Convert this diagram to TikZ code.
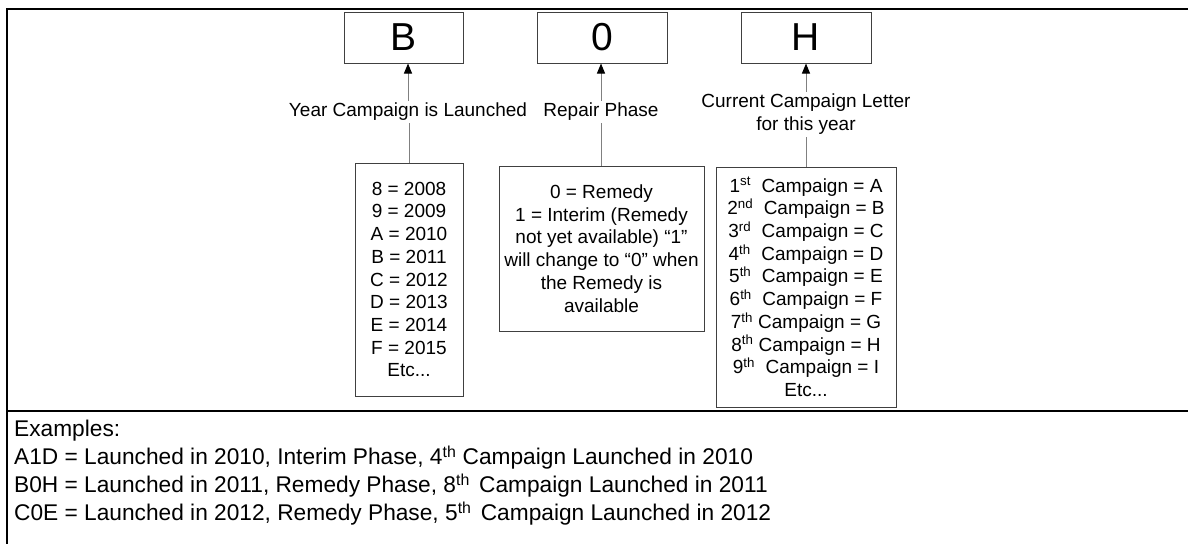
\documentclass[tikz,border=0pt]{standalone}
\usepackage{fontspec}
\setmainfont{Liberation Sans}
\usetikzlibrary{arrows.meta, positioning}
\definecolor{boxgray}{HTML}{404040}
\definecolor{linegray}{HTML}{808080}
\tikzset{
  codebox/.style={draw=boxgray, line width=1pt, minimum height=51pt, inner sep=0pt, font=\fontsize{39}{44}\selectfont},
  keybox/.style={draw=boxgray, line width=1pt, align=center, inner sep=0pt, font=\fontsize{19}{22.7}\selectfont},
  fieldlabel/.style={align=center, inner sep=2pt, font=\fontsize{19}{23}\selectfont},
  pointer/.style={draw=linegray, line width=1pt, -{Triangle[length=10pt,width=8pt,color=black]}},
  stem/.style={draw=linegray, line width=1pt},
  frame/.style={line width=2pt}
}

\begin{document}
\begin{tikzpicture}[x=1pt, y=-1pt]
    \useasboundingbox (0,0) rectangle (1188,544);
    % frame and divider
    \draw[frame] (1188,9) -- (7,9) -- (7,544);
    \draw[frame] (7,411) -- (1188,411);
    % the three code characters
    \foreach \x/\w/\c/\n in {403.5/119/B/year, 602/130/0/phase, 806/130/H/camp} {
        \node[codebox, minimum width=\w pt] (code-\n) at (\x,37.5) {\c};
    }
    % field labels
    \node[fieldlabel] (lbl-year) at (408,112) {Year Campaign is Launched};
    \node[fieldlabel] (lbl-phase) at (601,112) {Repair Phase};
    \node[fieldlabel] (lbl-camp) at (806,114.5) {Current Campaign Letter\\for this year};
    % key boxes
    \node[keybox, minimum width=108pt, minimum height=233pt] (key-year) at (409,279.5)
        {8 = 2008\\9 = 2009\\A = 2010\\B = 2011\\C = 2012\\D = 2013\\E = 2014\\F = 2015\\Etc...};
    \node[keybox, minimum width=205pt, minimum height=165pt] (key-phase) at (601.5,248.5)
        {0 = Remedy\\1 = Interim (Remedy\\not yet available) “1”\\will change to “0” when\\the Remedy is\\available};
    \node[keybox, minimum width=180pt, minimum height=240pt] (key-camp) at (806,287)
        {1\textsuperscript{st}\ \ Campaign = A\\
         2\textsuperscript{nd}\ \ Campaign = B\\
         3\textsuperscript{rd}\ \ Campaign = C\\
         4\textsuperscript{th}\ \ Campaign = D\\
         5\textsuperscript{th}\ \ Campaign = E\\
         6\textsuperscript{th}\ \ Campaign = F\\
         7\textsuperscript{th} Campaign = G\\
         8\textsuperscript{th} Campaign = H\\
         9\textsuperscript{th}\ \ Campaign = I\\
         Etc...};
    % connectors
    \foreach \n in {year, phase, camp} {
        \draw[pointer] (lbl-\n.north) -- (lbl-\n.north |- code-\n.south);
        \draw[stem] (key-\n.north) -- (key-\n.north |- lbl-\n.south);
    }
    % examples
    \node[anchor=north west, inner sep=0pt, align=left, font=\fontsize{22.7}{28}\selectfont] (examples) at (14,420)
        {Examples:\\
         A1D = Launched in 2010, Interim Phase, 4\textsuperscript{th} Campaign Launched in 2010\\
         B0H = Launched in 2011, Remedy Phase, 8\textsuperscript{th}\hspace{3pt} Campaign Launched in 2011\\
         C0E = Launched in 2012, Remedy Phase, 5\textsuperscript{th}\hspace{3pt} Campaign Launched in 2012};
\end{tikzpicture}
\end{document}
